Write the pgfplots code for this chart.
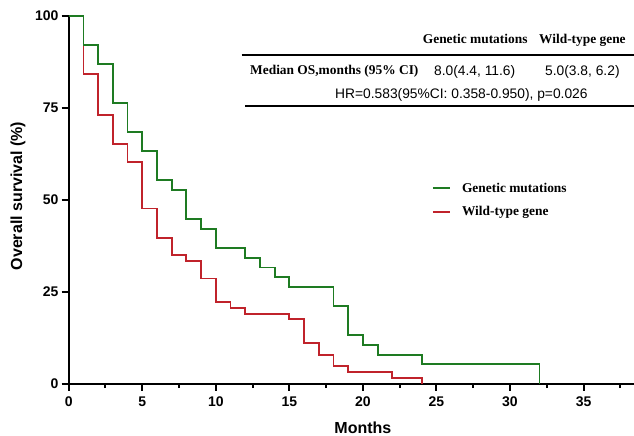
\documentclass[border=0pt]{standalone}
\usepackage{fontspec}
\setmainfont{Liberation Sans}
\newfontfamily\timesf{Liberation Serif}
\usepackage{pgfplots}
\pgfplotsset{compat=1.18}
\definecolor{cGen}{HTML}{1E7B22}
\definecolor{cWild}{HTML}{C0232B}
\newcommand{\tickf}{\fontsize{14bp}{16bp}\selectfont\bfseries}
\newcommand{\labf}{\fontsize{16bp}{18bp}\selectfont\bfseries}
\newcommand{\tabf}{\fontsize{13.4bp}{15bp}\selectfont\timesf\bfseries}
\newcommand{\numf}{\fontsize{13.8bp}{15bp}\selectfont}

\begin{document}
\begin{tikzpicture}
\begin{axis}[
  at={(0,0)}, anchor=south west,
  scale only axis, width=588.4bp, height=368bp,
  xmin=0, xmax=40, ymin=0, ymax=100,
  axis lines=left,
  axis line style={-, line width=2bp, black},
  clip=false,
  xtick={0,5,...,35}, ytick={0,25,50,75,100},
  minor xtick={2.5,7.5,...,37.5},
  tick align=outside,
  major tick length=7bp, minor tick length=4.5bp,
  tick style={black, line width=2bp},
  tick label style={font=\tickf},
  /pgf/number format/assume math mode=true,
  yticklabel style={inner sep=0pt, anchor=east, xshift=-3bp},
  xticklabel style={inner sep=0pt, anchor=north, yshift=-6bp},
  xlabel={Months}, ylabel={Overall survival (\%)},
  label style={font=\labf},
  xlabel style={at={(axis description cs:0.5,0)}, anchor=center, yshift=-43.8bp},
  ylabel style={at={(axis description cs:-0.0862,0.51)}, anchor=center},
  reverse legend,
  legend cell align=left,
  legend image code/.code={\draw[#1] (0bp,0bp) -- (17.6bp,0bp);},
  legend style={at={(axis cs:24.68,49.9)}, anchor=west, draw=none, fill=none,
                inner sep=0pt, font=\tabf, row sep=12.6bp, column sep=10.7bp,
                nodes={inner sep=0pt}},
]
% Wild-type gene (n = 63)
\addplot[cWild, line width=1.8bp, const plot, no marks] coordinates {
  (0,100) (1,84.1) (2,73.0) (3,65.1) (4,60.3) (5,47.6) (6,39.7) (7,34.9)
  (8,33.3) (9,28.6) (10,22.2) (11,20.6) (12,19.0) (15,17.5) (16,11.1)
  (17,7.9) (18,4.8) (19,3.2) (22,1.6) (24,0)
};
\addlegendentry{Wild-type gene}
% Genetic mutations (n = 38)
\addplot[cGen, line width=1.8bp, const plot, no marks] coordinates {
  (0,100) (1,92.1) (2,86.8) (3,76.3) (4,68.4) (5,63.2) (6,55.3) (7,52.6)
  (8,44.7) (9,42.1) (10,36.8) (12,34.2) (13,31.6) (14,28.9) (15,26.3)
  (18,21.1) (19,13.2) (20,10.5) (21,7.9) (24,5.3) (32,0)
};
\addlegendentry{Genetic mutations}
\end{axis}

% summary table
\draw[line width=2bp] (173bp,328.7bp) -- (600bp,328.7bp);
\draw[line width=2bp] (176.3bp,277.7bp) -- (600bp,277.7bp);
\node[anchor=base west, font=\tabf, inner sep=0pt] at (354bp,339.7bp) {Genetic mutations};
\node[anchor=base west, font=\tabf, inner sep=0pt] at (470.3bp,339.7bp) {Wild-type gene};
\node[anchor=base west, font=\tabf, inner sep=0pt] at (181.3bp,308.7bp) {Median OS,months (95\% CI)};
\node[anchor=base west, font=\numf, inner sep=0pt] at (365.3bp,307.7bp) {8.0(4.4, 11.6)};
\node[anchor=base west, font=\numf, inner sep=0pt] at (476.3bp,307.7bp) {5.0(3.8, 6.2)};
\node[anchor=base west, font=\numf, inner sep=0pt] at (266.3bp,285.4bp) {HR=0.583(95\%CI: 0.358-0.950), p=0.026};

\pgfresetboundingbox
\path[use as bounding box] (-68.7bp,-52.3bp) rectangle (565.3bp,383.7bp);
\end{tikzpicture}
\end{document}
